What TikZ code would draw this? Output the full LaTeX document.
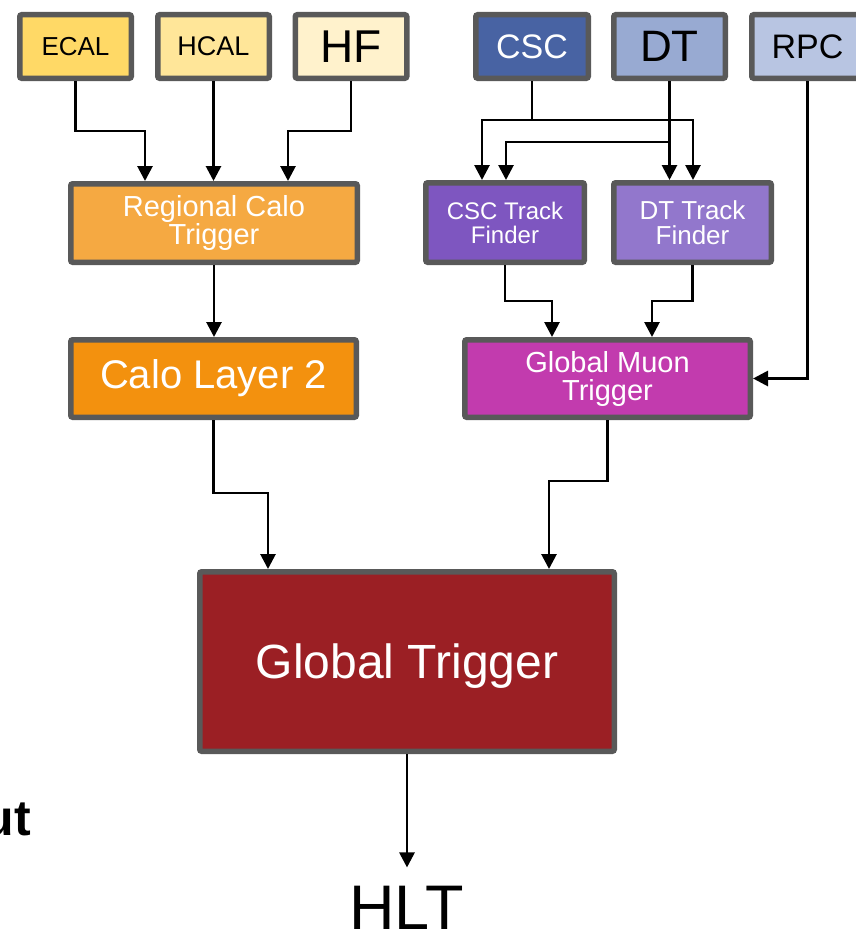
\documentclass[tikz,border=0pt]{standalone}
\usepackage{fontspec}
\setmainfont{Liberation Sans}
\usetikzlibrary{arrows.meta}
\definecolor{boxgray}{HTML}{595959}
\definecolor{ecalc}{HTML}{FFD966}
\definecolor{hcalc}{HTML}{FFE699}
\definecolor{hfc}{HTML}{FFF2CC}
\definecolor{cscc}{HTML}{4863A3}
\definecolor{dtc}{HTML}{98AAD2}
\definecolor{rpcc}{HTML}{B8C5E2}
\definecolor{rctc}{HTML}{F5A942}
\definecolor{caloc}{HTML}{F3910E}
\definecolor{csctfc}{HTML}{7E56C0}
\definecolor{dttfc}{HTML}{9277CC}
\definecolor{gmtc}{HTML}{C23BAE}
\definecolor{gtc}{HTML}{9B1F24}
\newcommand{\fs}[2]{\fontsize{#1}{#2}\selectfont}

\begin{document}
\begin{tikzpicture}[x=1pt,y=-1pt,
	box/.style={draw=boxgray,line width=5.5pt,rounded corners=2pt,align=center,inner sep=0pt},
	det/.style={box,minimum width=111.5pt,minimum height=63.5pt},
	arr/.style={line width=2.8pt,-{Triangle[width=15pt,length=15pt]}}]
	\useasboundingbox (0,0) rectangle (856,934);
	% detectors
	\node[det,fill=ecalc,font=\fs{26}{26}] (ECAL) at (75.5,46.5) {ECAL};
	\node[det,fill=hcalc,font=\fs{27}{27}] (HCAL) at (213.5,46.5) {HCAL};
	\node[det,fill=hfc,font=\fs{46}{46}] (HF) at (351,46.5) {HF};
	\node[det,fill=cscc,text=white,font=\fs{34}{34},minimum width=112.5pt] (CSC) at (532,46.5) {CSC};
	\node[det,fill=dtc,font=\fs{44}{44}] (DT) at (669.5,46.5) {DT};
	\node[det,fill=rpcc,font=\fs{34}{34}] (RPC) at (807.5,46.5) {RPC};
	% trigger boards
	\node[box,fill=rctc,text=white,font=\fs{29}{28},minimum width=286.5pt,minimum height=78.5pt] (RCT) at (214,223) {Regional Calo\\Trigger};
	\node[box,fill=csctfc,text=white,font=\fs{24}{24},minimum width=158.5pt,minimum height=79.5pt] (CSCTF) at (505,222.5) {CSC Track\\Finder};
	\node[box,fill=dttfc,text=white,font=\fs{26}{25},minimum width=157.5pt,minimum height=79.5pt] (DTTF) at (692.5,222.5) {DT Track\\Finder};
	\node[box,fill=caloc,text=white,font=\fs{40}{40},minimum width=285.5pt,minimum height=77.5pt] (CL2) at (213.5,378.5) {Calo Layer 2};
	\node[box,fill=gmtc,text=white,font=\fs{29}{28},minimum width=285.5pt,minimum height=77.5pt] (GMT) at (607.5,378.5) {Global Muon\\Trigger};
	\node[box,fill=gtc,text=white,font=\fs{48}{48},text depth=0pt,minimum width=414.5pt,minimum height=179.5pt] (GT) at (407,661.5) {Global Trigger};
	\node[anchor=base,inner xsep=0pt,inner ysep=18pt,font=\fs{63}{63}] (HLT) at (406.5,929) {HLT};
	\node[anchor=base east,inner sep=0pt,font=\fs{50}{50}\bfseries] (UT) at (31,835) {ut};
	% calo chain
	\draw[arr] (ECAL.south) -- ++(0,50) -| ([xshift=-69pt]RCT.north);
	\draw[arr] (HCAL.south) -- (HCAL.south |- RCT.north);
	\draw[arr] (HF.south) -- ++(0,50) -| ([xshift=74pt]RCT.north);
	\draw[arr] (RCT.south) -- (RCT.south |- CL2.north);
	\draw[arr] (CL2.south) -- ++(0,73) -| ([xshift=-139pt]GT.north);
	% muon chain
	\draw[arr] (CSC.south) -- ++(0,39) -| ([xshift=-23pt]CSCTF.north);
	\draw[arr] (CSC.south) -- ++(0,39) -| ([xshift=0.5pt]DTTF.north);
	\draw[arr] (DT.south) -- ++(0,61) -| ([xshift=1pt]CSCTF.north);
	\draw[arr] (DT.south) -- (DT.south |- DTTF.north);
	\draw[arr] (CSCTF.south) -- ++(0,36) -| ([xshift=-55.5pt]GMT.north);
	\draw[arr] (DTTF.south) -- ++(0,36) -| ([xshift=44.5pt]GMT.north);
	\draw[arr] (RPC.south) |- (GMT.east);
	\draw[arr] (GMT.south) -- ++(0,61) -| ([xshift=142pt]GT.north);
	\draw[arr] (GT.south) -- (GT.south |- HLT.north);
\end{tikzpicture}
\end{document}
